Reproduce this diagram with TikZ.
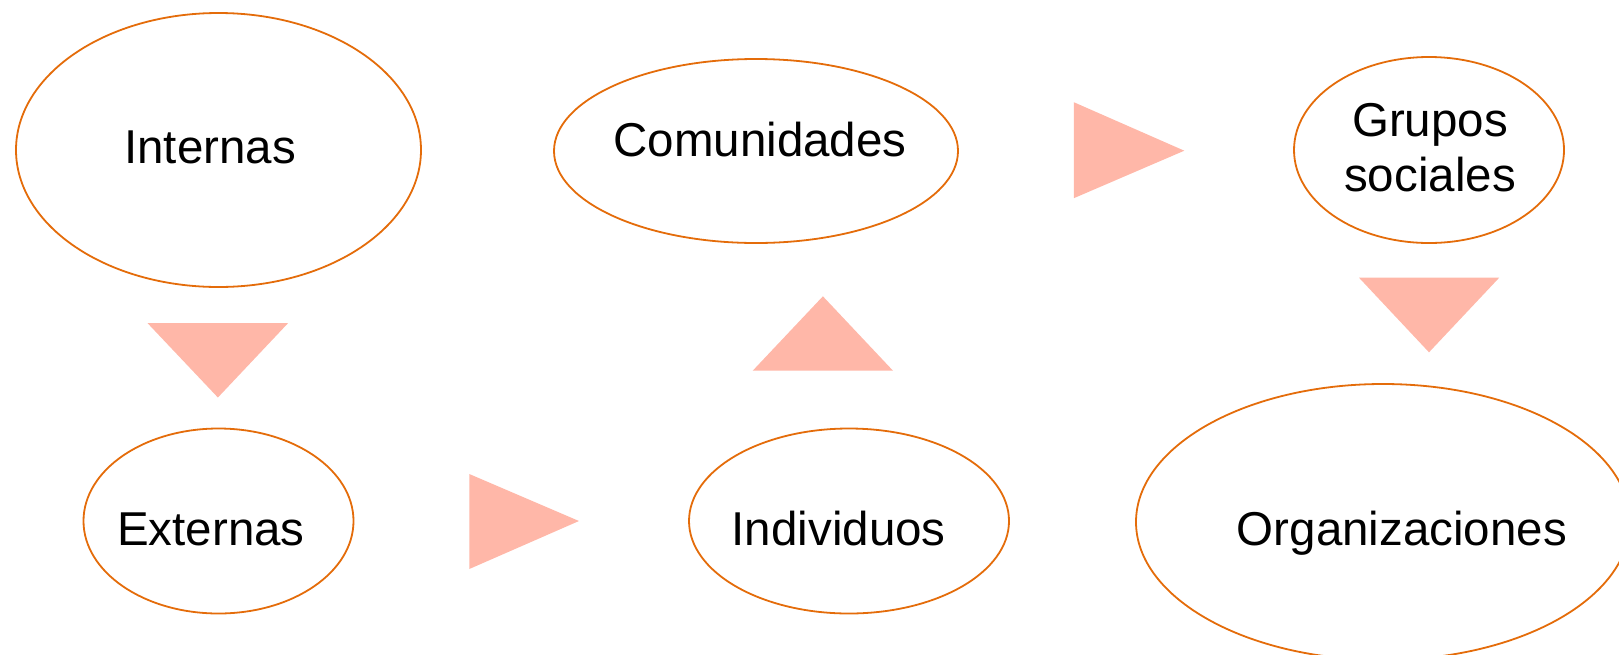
\documentclass[tikz,border=0pt]{standalone}
\usepackage{fontspec}
\setmainfont{Liberation Sans}
\usetikzlibrary{shapes.geometric}
\definecolor{edge}{RGB}{228,108,10}
\definecolor{tri}{RGB}{255,183,168}
\tikzset{
  bubble/.style={ellipse, draw=edge, line width=1.8pt, fill=white, inner sep=0pt},
  label/.style={anchor=base, inner sep=0pt, font=\fontsize{47.5}{55}\selectfont, align=center},
  arrowtri/.style={fill=tri, draw=none}
}
\begin{document}
\begin{tikzpicture}[x=1pt,y=-1pt]
\useasboundingbox (0,0) rectangle (1619,654);
\begin{scope}
\clip (0,0) rectangle (1619,654);
\node[bubble, minimum width=405pt, minimum height=274pt] (int) at (218.5,150) {};
\node[bubble, minimum width=404pt, minimum height=184pt] (com) at (756,151) {};
\node[bubble, minimum width=270pt, minimum height=186pt] (gru) at (1429,150) {};
\node[bubble, minimum width=270pt, minimum height=185pt] (ext) at (218.5,521) {};
\node[bubble, minimum width=320pt, minimum height=185pt] (ind) at (849,521) {};
\node[bubble, minimum width=494pt, minimum height=276pt] (org) at (1383,522) {};
\end{scope}
\node[label] (intT) at (210,163) {Internas};
\node[label] (comT) at (760,156.7) {Comunidades};
\node[label] (gruT1) at (1430,136.7) {Grupos};
\node[label] (gruT2) at (1430,191.7) {sociales};
\node[label] (extT) at (211,545) {Externas};
\node[label] (indT) at (838.7,545) {Individuos};
\node[label] (orgT) at (1402,545) {Organizaciones};
\fill[arrowtri] (147.6,323.2) -- (288,323.2) -- (217.9,397.5) -- cycle;
\fill[arrowtri] (469.3,474) -- (469.3,569) -- (579,521) -- cycle;
\fill[arrowtri] (752.7,370.7) -- (893,370.7) -- (822.9,296.3) -- cycle;
\fill[arrowtri] (1073.8,102.2) -- (1073.8,198.2) -- (1184.3,150.7) -- cycle;
\fill[arrowtri] (1359,277.7) -- (1499.2,277.7) -- (1429,352.3) -- cycle;
\end{tikzpicture}
\end{document}
